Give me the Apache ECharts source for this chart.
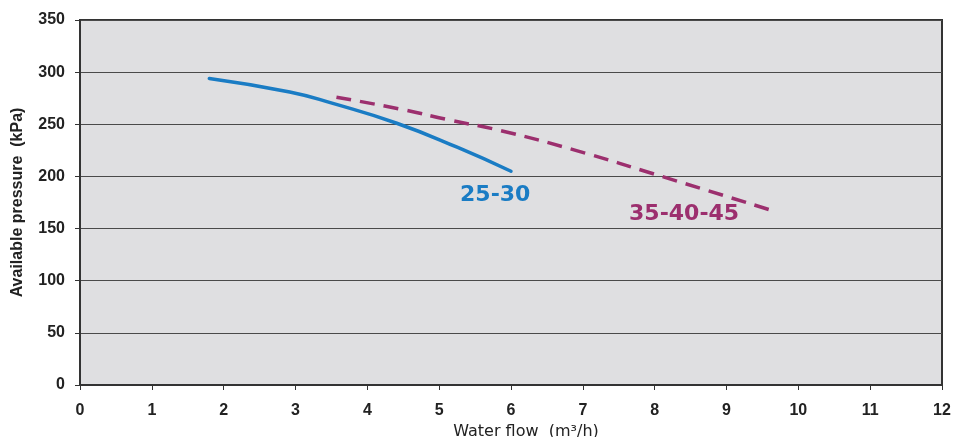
<!DOCTYPE html>
<html><head><meta charset="utf-8">
<script src="https://cdn.jsdelivr.net/npm/echarts@6/dist/echarts.min.js"></script>
<style>html,body{margin:0;padding:0;background:#fff}#c{width:954px;height:437px}</style>
</head><body><div id="c"></div>
<script>
const xTicks = [0,1,2,3,4,5,6,7,8,9,10,11,12];
const yTicks = [0,50,100,150,200,250,300,350];
const flowA = [1.8, 2.92, 3.52, 4.41, 5.25, 6.0];
const pressA = [294, 281, 270, 251, 228, 205];
const flowB = [3.57, 4.5, 5.15, 5.85, 6.9, 8.1, 9.6];
const pressB = [276, 264, 254, 244, 225, 200, 168];
const labelA = {name: '25-30', x: 5.78, y: 182};
const labelB = {name: '35-40-45', x: 8.41, y: 164};

const chart = echarts.init(document.getElementById('c'));
const font = 'Liberation Sans, Arial, sans-serif';
const wide = 'DejaVu Sans, sans-serif';
chart.setOption({
  animation: false,
  grid: {left: 80, right: 12, top: 20, bottom: 52, containLabel: false, outerBoundsMode: 'none',
         show: true, backgroundColor: '#dfdfe1', borderColor: '#333', borderWidth: 2},
  xAxis: {
    type: 'value', min: 0, max: 12, interval: 1,
    name: 'Water flow  (m³/h)', nameLocation: 'middle', nameGap: 35,
    nameTextStyle: {fontFamily: wide, fontSize: 16, color: '#222', padding: [0, 0, 0, 30]},
    axisLine: {lineStyle: {color: '#333', width: 2}},
    axisTick: {show: true, length: 5, lineStyle: {color: '#333'}},
    axisLabel: {fontFamily: font, fontSize: 16, fontWeight: 'bold', color: '#222', margin: 18},
    splitLine: {show: false}
  },
  yAxis: {
    type: 'value', min: 0, max: 350, interval: 50,
    name: 'Available pressure  (kPa)', nameLocation: 'middle', nameGap: 54, nameRotate: 90,
    nameTextStyle: {fontFamily: font, fontSize: 16, fontWeight: 'bold', color: '#222'},
    axisLine: {lineStyle: {color: '#333', width: 2}},
    axisTick: {show: true, length: 5, lineStyle: {color: '#333'}},
    axisLabel: {fontFamily: font, fontSize: 16, fontWeight: 'bold', color: '#222', margin: 15},
    splitLine: {show: true, lineStyle: {color: '#4a4a4a', width: 1.2}}
  },
  series: [
    {
      type: 'line', smooth: 0.5, symbol: 'none',
      data: flowA.map((x, i) => [x, pressA[i]]),
      lineStyle: {color: '#1a7cc4', width: 3.5, cap: 'round'},
      markPoint: {
        symbol: 'circle', symbolSize: 0,
        data: [{coord: [labelA.x, labelA.y], value: labelA.name}],
        label: {show: true, formatter: labelA.name, fontFamily: wide, fontSize: 22, fontWeight: 'bold', color: '#1a7cc4', position: 'inside'}
      }
    },
    {
      type: 'line', smooth: 0.5, symbol: 'none',
      data: flowB.map((x, i) => [x, pressB[i]]),
      lineStyle: {color: '#9c2f6e', width: 3.5, type: [15, 9]},
      markPoint: {
        symbol: 'circle', symbolSize: 0,
        data: [{coord: [labelB.x, labelB.y], value: labelB.name}],
        label: {show: true, formatter: labelB.name, fontFamily: wide, fontSize: 22, fontWeight: 'bold', color: '#9c2f6e', position: 'inside'}
      }
    }
  ]
});
</script></body></html>
